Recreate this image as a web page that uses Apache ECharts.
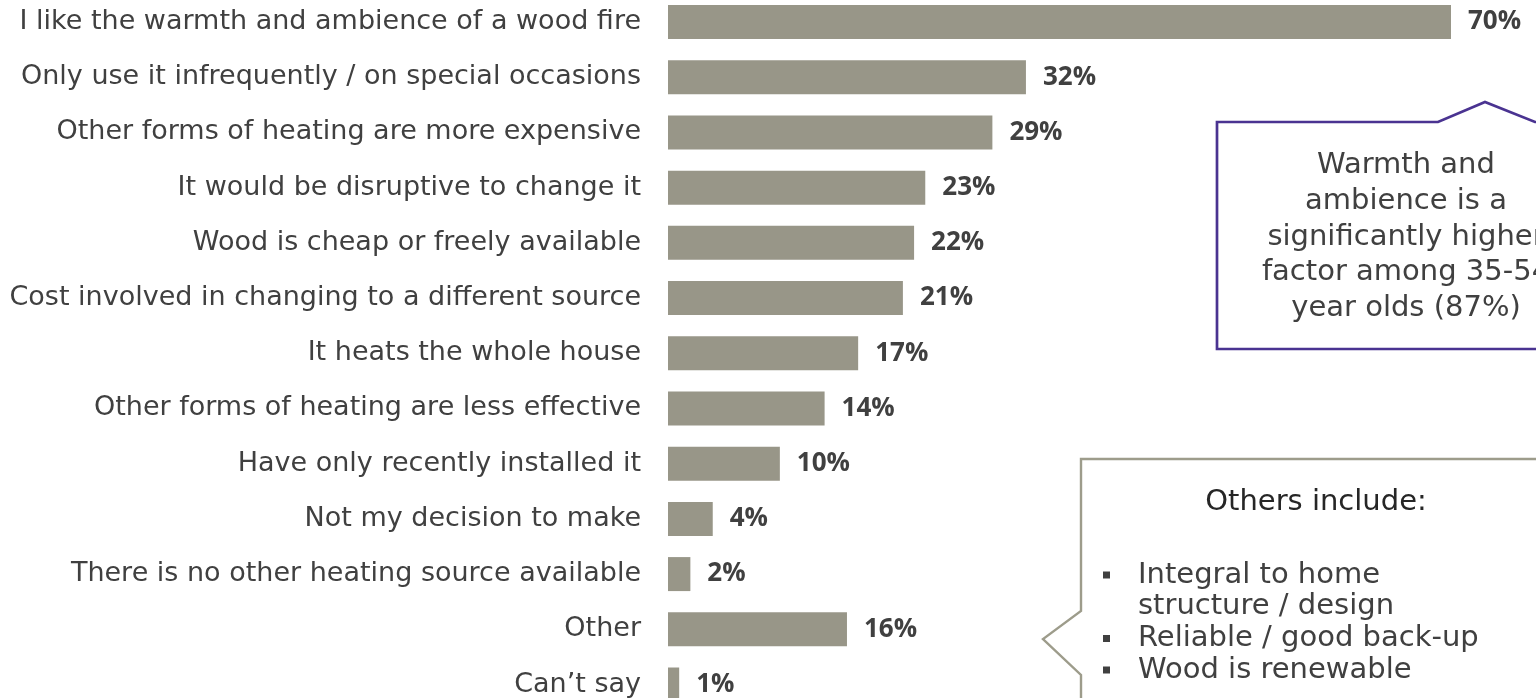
<!DOCTYPE html>
<html>
<head>
<meta charset="utf-8">
<script src="https://cdn.jsdelivr.net/npm/echarts@6/dist/echarts.min.js"></script>
<style>
html,body{margin:0;padding:0;background:#fff;}
#chart{width:1536px;height:698px;}
</style>
</head>
<body>
<div id="chart"></div>
<script>
const categories = [
  "I like the warmth and ambience of a wood fire",
  "Only use it infrequently / on special occasions",
  "Other forms of heating are more expensive",
  "It would be disruptive to change it",
  "Wood is cheap or freely available",
  "Cost involved in changing to a different source",
  "It heats the whole house",
  "Other forms of heating are less effective",
  "Have only recently installed it",
  "Not my decision to make",
  "There is no other heating source available",
  "Other",
  "Can\u2019t say"
];
const values = [70, 32, 29, 23, 22, 21, 17, 14, 10, 4, 2, 16, 1];
const note1Lines = ["Warmth and", "ambience is a", "significantly higher", "factor among 35-54", "year olds (87%)"];
const note2Title = "Others include:";
const note2Bullets = ["Integral to home\nstructure / design", "Reliable / good back-up", "Wood is renewable"];

const FONT = "'DejaVu Sans', sans-serif";
const TXT = '#404040';

const chart = echarts.init(document.getElementById('chart'));

const graphics = [
  {
    type: 'polygon',
    shape: { points: [[1217,122],[1438,122],[1485,102],[1535,122],[1610,122],[1610,349],[1217,349]] },
    style: { fill: '#fff', stroke: '#4a3391', lineWidth: 2.7 },
    z: 10
  },
  {
    type: 'text',
    x: 1406, y: 237,
    style: {
      text: note1Lines.join('\n'),
      font: '29px ' + FONT,
      fill: TXT,
      align: 'center',
      verticalAlign: 'middle',
      lineHeight: 35.7
    },
    z: 11
  },
  {
    type: 'polygon',
    shape: { points: [[1081,459],[1610,459],[1610,720],[1081,720],[1081,675],[1043,639],[1081,611]] },
    style: { fill: '#fff', stroke: '#9d9c8b', lineWidth: 2.4 },
    z: 10
  },
  {
    type: 'text',
    x: 1316, y: 502,
    style: {
      text: note2Title,
      font: '29px ' + FONT,
      fill: '#262626',
      align: 'center',
      verticalAlign: 'middle'
    },
    z: 11
  },
  {
    type: 'text',
    x: 1138, y: 575 - 15.85,
    style: {
      text: note2Bullets.join('\n'),
      font: '29px ' + FONT,
      fill: TXT,
      align: 'left',
      verticalAlign: 'top',
      lineHeight: 31.7
    },
    z: 11
  }
];
[575, 638.5, 670].forEach(function (cy) {
  graphics.push({
    type: 'rect',
    shape: { x: 1103, y: cy - 3.5, width: 7, height: 7 },
    style: { fill: TXT },
    z: 11
  });
});

chart.setOption({
  animation: false,
  grid: { left: 668, top: 22, width: 783, height: 663.6, containLabel: false },
  xAxis: {
    type: 'value', min: 0, max: 70,
    show: false
  },
  yAxis: {
    type: 'category',
    data: categories,
    inverse: true,
    boundaryGap: false,
    axisLine: { show: false },
    axisTick: { show: false },
    splitLine: { show: false },
    axisLabel: {
      margin: 27,
      color: TXT,
      fontFamily: 'DejaVu Sans',
      fontSize: 27
    }
  },
  series: [{
    type: 'bar',
    data: values,
    barWidth: 34,
    itemStyle: { color: '#989688' },
    label: {
      show: true,
      position: 'right',
      distance: 17,
      formatter: '{c}%',
      color: TXT,
      fontFamily: 'Open Sans',
      fontWeight: 'bold',
      fontSize: 26
    }
  }],
  graphic: graphics
});
</script>
</body>
</html>
